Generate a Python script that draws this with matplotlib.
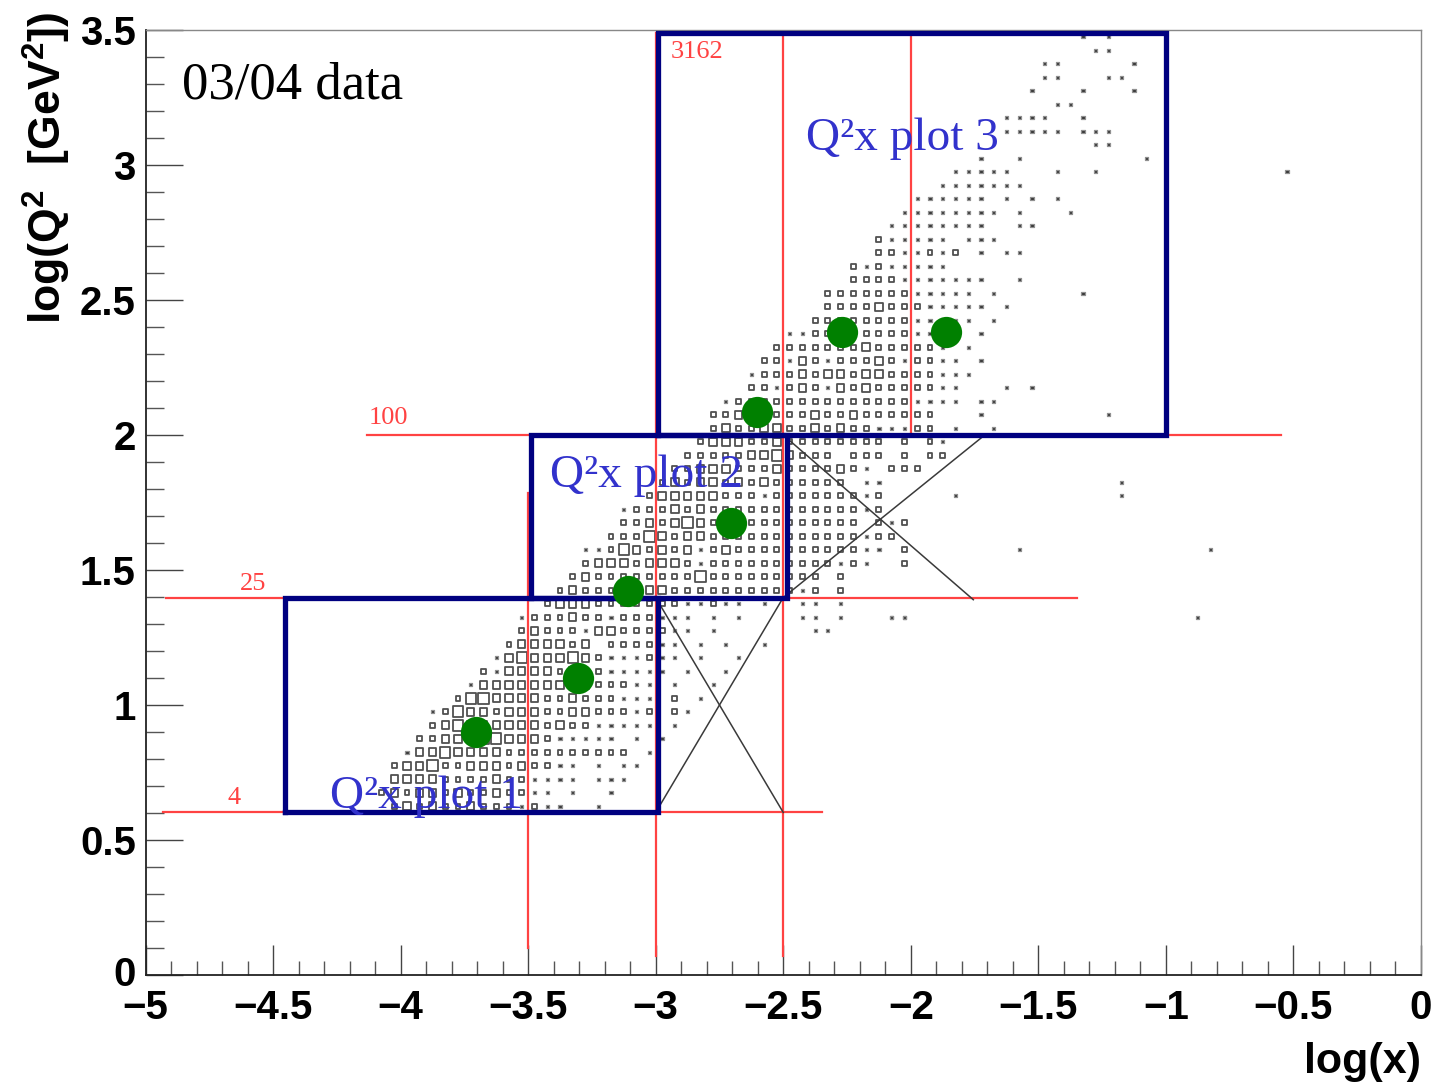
import matplotlib
matplotlib.use('Agg')
import matplotlib.pyplot as plt
import matplotlib.transforms as mtransforms
from matplotlib.patches import Rectangle
from matplotlib.collections import PatchCollection
from matplotlib.ticker import MultipleLocator

plt.rcParams['mathtext.fontset'] = 'custom'
plt.rcParams['mathtext.rm'] = 'Liberation Sans:bold'
plt.rcParams['mathtext.bf'] = 'Liberation Sans:bold'

# ---------------- data ----------------
# 2D histogram binning (log x, log Q2)
x_lo, x_hi, n_xbins = -5.0, 0.0, 100
y_lo, y_hi, n_ybins = 0.0, 3.5, 70

# box-size level per cell (0 = empty, 1 = tiny ... 4 = large), read row by row
row_index = [12, 13, 14, 15, 16, 17, 18, 19, 20, 21, 22, 23, 24, 25, 26, 27,
             28, 29, 30, 31, 32, 33, 34, 35, 36, 37, 38, 39, 40, 41, 42, 43,
             44, 45, 46, 47, 48, 49, 50, 51, 52, 53, 54, 55, 56, 57, 58, 59,
             60, 61, 62, 63, 64, 65, 66, 67, 68, 69]
row_first_bin = [19, 18, 19, 19, 20, 21, 22, 22, 24, 25, 26, 27, 28, 29, 29, 31,
                 32, 33, 34, 34, 36, 37, 37, 39, 40, 41, 42, 43, 44, 44, 45, 47,
                 47, 48, 49, 50, 52, 53, 53, 55, 55, 57, 57, 58, 59, 60, 62, 63,
                 65, 74, 67, 67, 71, 69, 70, 70, 74, 73]
row_levels = [
    "23232232221211001",
    "2323323223221101001",
    "3333222232211110111",
    "23342233323221101011",
    "13343333222222222201",
    "22333443332111110101",
    "23433333323221111101",
    "124332333223322212021",
    "24433332232221110201",
    "13333333332221101001",
    "21333323221111101001",
    "13433343211121101001",
    "233332302222110101001",
    "2322213322221101000000011",
    "1222322122211101010000110100011",
    "233322222221121101001101",
    "23222223322222222221202",
    "2322222222422222222202",
    "23332333212222222222121002",
    "11243232312322222222221102",
    "22243233222222222222122",
    "22323432332222222220212",
    "122232322222222222212",
    "2333332221222222212000001",
    "232332323222222011",
    "22333222322223210222",
    "222223343222022202022",
    "23332232222222202021",
    "23223322323221112201001",
    "2232222232232222220001",
    "1222222222222221111011",
    "22123213232222211000101",
    "122232332332222111",
    "221321222321221101",
    "2222222322222101",
    "1122222222111101",
    "222222221111101",
    "222232221111101",
    "22222221111101",
    "22221111111001",
    "21211111",
    "221121201011",
    "2111110111",
    "111111110011",
    "11111111010001",
    "111111010101",
    "1111111",
    "111110001001",
    "1001",
    "11",
    "111110111",
    "1111001",
    "11",
    "100010001",
    "1100011",
    "11000001",
    "11",
    "101",
]
outlier_xbin = [58, 59, 82, 68, 83, 76, 76, 75, 73, 89, 78]
outlier_ybin = [26, 26, 26, 31, 31, 35, 36, 41, 50, 59, 60]

level_fraction = [0.0, 0.25, 0.38, 0.58, 0.82]

# selected points (green markers)
point_logx = [-3.703, -3.303, -3.107, -2.705, -2.603, -2.270, -1.861]
point_logq2 = [0.901, 1.099, 1.423, 1.673, 2.086, 2.383, 2.381]

# Q2 reference lines: value label, y, x-start, x-end
hline_labels = ["4", "25", "100"]
hline_y = [0.602, 1.398, 2.0]
hline_x0 = [-4.93, -4.92, -4.13]
hline_x1 = [-2.347, -1.347, -0.55]
hline_label_x = [-4.68, -4.63, -4.127]
hline_label_y = [0.633, 1.426, 2.04]
top_label = "3162"
# x reference lines: x, y-start, y-end
vline_x = [-3.5, -3.0, -2.5, -2.0]
vline_y0 = [0.10, 0.07, 0.07, 2.0]
vline_y1 = [1.785, 3.49, 3.49, 3.49]

# blue selection boxes: (x0, x1, y0, y1)
box_x0 = [-4.455, -3.49, -2.99]
box_x1 = [-2.99, -2.485, -1.0]
box_y0 = [0.602, 1.398, 2.0]
box_y1 = [1.398, 2.0, 3.49]
box_names = ["Q²x plot 1", "Q²x plot 2", "Q²x plot 3"]
box_name_x = [-4.276, -3.414, -2.41]
box_name_y = [0.619, 1.807, 3.056]

# black crossing lines (x0, y0, x1, y1)
cross_x0 = [-3.0, -3.0, -2.5, -2.5]
cross_y0 = [0.602, 1.398, 2.0, 1.398]
cross_x1 = [-2.5, -2.5, -1.755, -1.71]
cross_y1 = [1.398, 0.602, 1.39, 2.0]

x_ticks = [-5, -4.5, -4, -3.5, -3, -2.5, -2, -1.5, -1, -0.5, 0]
y_ticks = [0, 0.5, 1, 1.5, 2, 2.5, 3, 3.5]

# ---------------- figure ----------------
W, H = 1441, 1087
fig = plt.figure(figsize=(W / 100, H / 100), dpi=100)
ax = fig.add_axes([145.5 / W, 1 - 975 / H, (1421 - 145.5) / W, (975 - 30) / H])
ax.set_xlim(x_lo, x_hi)
ax.set_ylim(y_lo, y_hi)

bw = (x_hi - x_lo) / n_xbins
bh = (y_hi - y_lo) / n_ybins

hollow = []
filled = []
def add_cell(i, j, lev):
    if lev <= 0:
        return
    f = level_fraction[lev]
    cx = x_lo + (i + 0.5) * bw
    cy = y_lo + (j + 0.5) * bh
    r = Rectangle((cx - f * bw / 2, cy - f * bh / 2), f * bw, f * bh)
    (filled if lev == 1 else hollow).append(r)

for j, i0, s in zip(row_index, row_first_bin, row_levels):
    for k, ch in enumerate(s):
        add_cell(i0 + k, j, int(ch))
for i, j in zip(outlier_xbin, outlier_ybin):
    add_cell(i, j, 1)

ax.add_collection(PatchCollection(hollow, facecolor='none', edgecolor='#505050',
                                  linewidth=1.3, zorder=2))
ax.add_collection(PatchCollection(filled, facecolor='#303030', edgecolor='#909090',
                                  linewidth=0.9, zorder=2))

red = '#ff4242'
for y, x0, x1 in zip(hline_y, hline_x0, hline_x1):
    ax.plot([x0, x1], [y, y], color=red, lw=1.6, zorder=3)
for x, y0, y1 in zip(vline_x, vline_y0, vline_y1):
    ax.plot([x, x], [y0, y1], color=red, lw=1.6, zorder=3)

serif = ['Liberation Serif', 'DejaVu Serif']
sans = ['Liberation Sans', 'DejaVu Sans']
for lab, x, y in zip(hline_labels, hline_label_x, hline_label_y):
    ax.text(x, y, lab, color=red, fontsize=19, family=serif, va='baseline', ha='left')
ax.text(-2.94, 3.396, top_label, color=red, fontsize=19, family=serif, va='baseline', ha='left')

for x0, y0, x1, y1 in zip(cross_x0, cross_y0, cross_x1, cross_y1):
    ax.plot([x0, x1], [y0, y1], color='#3a3a3a', lw=1.1, zorder=3)

for x0, x1, y0, y1 in zip(box_x0, box_x1, box_y0, box_y1):
    ax.plot([x0, x1, x1, x0, x0], [y0, y0, y1, y1, y0], color='#000080', lw=3.8,
            solid_joinstyle='miter', zorder=4)

ax.plot(point_logx, point_logq2, 'o', color='#008000', markersize=22.5, zorder=5, mec='none')

for name, x, y in zip(box_names, box_name_x, box_name_y):
    ax.text(x, y, name, color='#3232cc', fontsize=34, family=serif, va='baseline',
            ha='left', zorder=6)

ax.text(-4.857, 3.245, "03/04 data", color='black', fontsize=38, family=serif,
        va='baseline', ha='left', zorder=6)

# axes styling
ax.xaxis.set_minor_locator(MultipleLocator(0.1))
ax.yaxis.set_minor_locator(MultipleLocator(0.1))
ax.tick_params(axis='x', which='major', direction='in', length=21.5, width=1.0,
               color='#444444', pad=10, top=False)
ax.tick_params(axis='x', which='minor', direction='in', length=10, width=1.0,
               color='#555555', top=False)
ax.tick_params(axis='y', which='major', direction='in', length=26.5, width=1.0,
               color='#444444', pad=7, right=False)
ax.tick_params(axis='y', which='minor', direction='in', length=13, width=1.0,
               color='#555555', right=False)

def fmt(v):
    return ('%g' % v).replace('-', '\u2212')
ax.set_xticks(x_ticks)
ax.set_xticklabels([fmt(v) for v in x_ticks])
ax.set_yticks(y_ticks)
ax.set_yticklabels([fmt(v) for v in y_ticks])
for lab in ax.get_xticklabels() + ax.get_yticklabels():
    lab.set_family(sans)
    lab.set_fontweight('bold')
    lab.set_fontsize(29)
# lift the y "0" label slightly as in the reference
ylabs = ax.get_yticklabels()
ylabs[0].set_transform(ylabs[0].get_transform() +
                       mtransforms.ScaledTranslation(0, 4 / 100, fig.dpi_scale_trans))

for side in ['left', 'bottom']:
    ax.spines[side].set_color('#222222')
    ax.spines[side].set_linewidth(1.3)
for side in ['top', 'right']:
    ax.spines[side].set_color('#888888')
    ax.spines[side].set_linewidth(1.0)

fig.text(47 / W, 1 - 12 / H, r"log(Q$^{2}$  [GeV$^{2}$])", rotation=90, ha='center', va='top',
         fontsize=32, fontweight='bold', family=sans)
fig.text(1421 / W, 1 - 1062 / H, "log(x)", ha='right', va='center',
         fontsize=31, fontweight='bold', family=sans)

fig.savefig('out.png', dpi=100)
